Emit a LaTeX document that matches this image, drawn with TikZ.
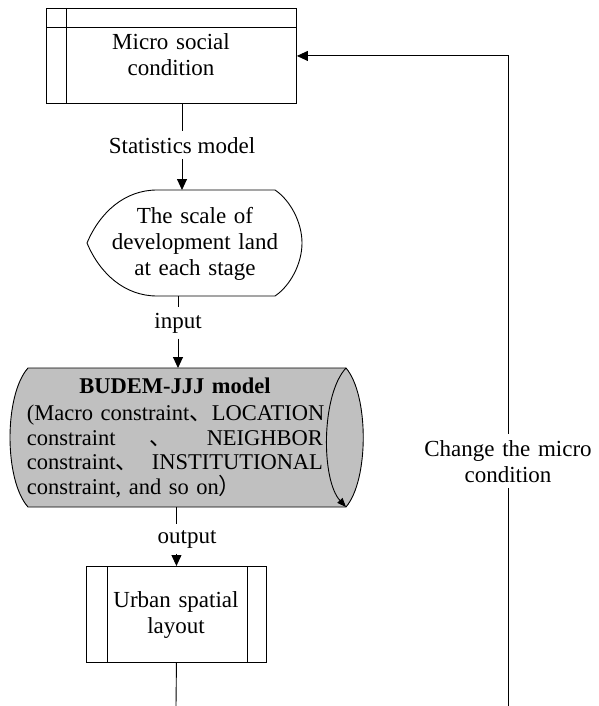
\documentclass[tikz,border=0pt]{standalone}
\usepackage{fontspec}
\setmainfont{Liberation Serif}
\newfontfamily\cjk{Noto Sans CJK SC}
\usetikzlibrary{arrows.meta,calc}
\definecolor{cylfill}{RGB}{192,192,192}
\begin{document}
\begin{tikzpicture}[x=1pt,y=-1pt,
  shapeline/.style={draw=black, line width=0.9pt},
  txt/.style={font=\fontsize{23}{26}\selectfont, inner sep=0pt, align=center},
  lbl/.style={txt, inner xsep=2pt, inner ysep=5.5pt},
  conn/.style={draw=black, line width=0.9pt},
  arr/.style={conn, -{Triangle[length=11pt,width=10pt]}},
  frame/.style={rectangle, inner sep=0pt, anchor=north west}]
\useasboundingbox (0,0) rectangle (598,706);
\fill[white] (0,0) rectangle (598,706);

% ---- top box: Micro social condition
\node[frame, shapeline, minimum width=250pt, minimum height=95pt] (micro) at (46,8) {};
\draw[shapeline] ([xshift=20pt]micro.north west) -- ([xshift=20pt]micro.south west);
\draw[shapeline] ([yshift=-19pt]micro.north west) -- ([yshift=-19pt]micro.north east);
\node[txt, text width=240pt, anchor=base] (microT) at (171,50) {Micro social\\condition};

% ---- display shape: scale of development land
\node[frame, minimum width=215pt, minimum height=106pt] (scale) at (87,190) {};
\draw[shapeline] (157,190) -- (275,190)
  .. controls (290,200) and (302,222) .. (302,243)
  .. controls (302,264) and (290,286) .. (275,296)
  -- (157,296)
  .. controls (125,296) and (100,274) .. (87,243)
  .. controls (100,212) and (125,190) .. (157,190) -- cycle;
\node[txt, text width=200pt, anchor=base] (scaleT) at (195,223) {The scale of\\development land\\at each stage};

% ---- cylinder: BUDEM-JJJ model
\node[frame, minimum width=354pt, minimum height=139pt] (budem) at (10,368) {};
\draw[shapeline, fill=cylfill] (28,368) -- (346,368)
  .. controls (369,395) and (369,480) .. (346,507)
  -- (28,507)
  .. controls (4,480) and (4,395) .. (28,368) -- cycle;
\draw[shapeline, -{Triangle[length=9pt,width=7pt]}] (346,368)
  .. controls (321,395) and (321,480) .. (346,507);
\node[txt, font=\fontsize{22.5}{24.5}\selectfont, text width=296pt, anchor=base] (budemT) at (175,393)
  {\textbf{BUDEM-JJJ model}\\[3pt]
   \makebox[296pt][s]{(Macro constraint{\cjk 、}LOCATION}\\
   \makebox[296pt][s]{constraint\hfill{\cjk 、}\hfill NEIGHBOR}\\
   \makebox[296pt][s]{constraint{\cjk 、}\hfill I\hfil N\hfil S\hfil T\hfil I\hfil T\hfil U\hfil T\hfil I\hfil O\hfil N\hfil A\hfil L}\\
   \makebox[296pt][l]{constraint, and so on{\cjk ）}}};

% ---- bottom box: Urban spatial layout
\node[frame, shapeline, minimum width=180pt, minimum height=96pt] (urban) at (86,566) {};
\draw[shapeline] ([xshift=21pt]urban.north west) -- ([xshift=21pt]urban.south west);
\draw[shapeline] ([xshift=-19pt]urban.north east) -- ([xshift=-19pt]urban.south east);
\node[txt, text width=140pt, anchor=base] (urbanT) at (176,607) {Urban spatial\\layout};

% ---- connector labels
\node[lbl, anchor=base] (statL) at (182,153) {Statistics model};
\node[lbl, anchor=base] (inL) at (178,328) {input};
\node[lbl, anchor=base] (outL) at (187,543) {output};
\node[txt, text width=190pt, inner ysep=6pt, anchor=base] (chgL) at (508,456) {Change the micro\\condition};

% ---- connectors
\draw[conn] (micro.south -| statL) -- (statL.north);
\draw[arr] (statL.south) -- (scale.north -| statL);
\draw[conn] (scale.south -| inL) -- (inL.north);
\draw[arr] (inL.south) -- (budem.north -| inL);
\draw[conn] (budem.south -| urban) -- (outL.north -| urban);
\draw[arr] (outL.south -| urban) -- (urban.north);
\coordinate (botEnd) at (176,706);
\draw[conn] (urban.south) -- (botEnd);
\coordinate (fbEnd) at (508,706);
\draw[conn] (fbEnd) -- (chgL.south);
\draw[arr] (chgL.north) |- (micro.east);
\end{tikzpicture}
\end{document}
